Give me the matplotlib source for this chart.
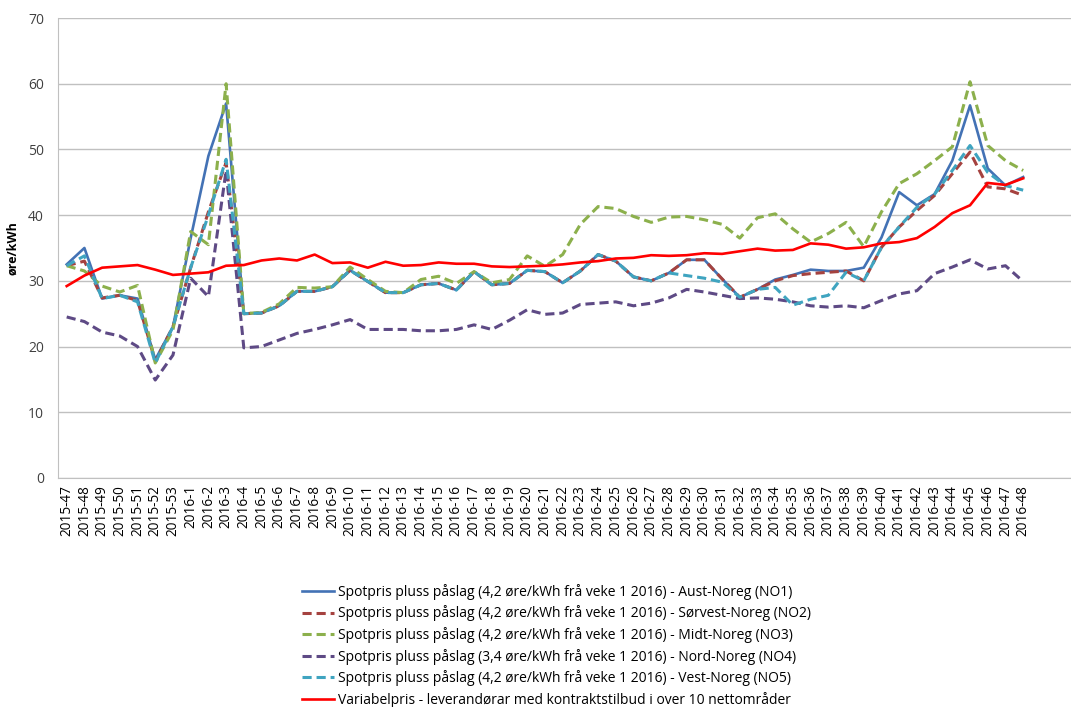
import matplotlib.pyplot as plt

plt.rcParams['font.family'] = ['Open Sans', 'DejaVu Sans']

# Weeks on the category axis
weeks = [f'2015-{w}' for w in range(47, 54)] + [f'2016-{w}' for w in range(1, 49)]

# Weekly prices, øre/kWh
no1 = [32.5, 35.0, 27.3, 27.8, 27.3, 18.0, 23.0, 36.5, 49.0, 57.0,
       25.0, 25.1, 26.2, 28.4, 28.4, 29.1, 31.6, 29.9, 28.2, 28.2,
       29.4, 29.6, 28.6, 31.4, 29.4, 29.6, 31.6, 31.4, 29.7, 31.5,
       34.0, 33.0, 30.6, 30.0, 31.2, 33.2, 33.2, 30.3, 27.5, 28.7,
       30.2, 30.9, 31.7, 31.5, 31.5, 32.0, 36.6, 43.5, 41.5, 43.2,
       48.3, 56.7, 47.1, 44.5, 45.8]
no2 = [32.3, 33.0, 27.4, 27.8, 27.0, 17.8, 23.0, 32.0, 40.5, 48.0,
       25.0, 25.1, 26.2, 28.4, 28.4, 29.1, 31.6, 29.9, 28.2, 28.2,
       29.4, 29.6, 28.6, 31.4, 29.4, 29.6, 31.6, 31.4, 29.7, 31.5,
       34.0, 33.0, 30.6, 30.0, 31.2, 33.2, 33.2, 30.3, 27.5, 28.7,
       30.0, 30.8, 31.1, 31.3, 31.5, 30.0, 35.1, 38.2, 40.7, 43.0,
       46.3, 49.6, 44.3, 44.0, 43.0]
no3 = [32.3, 31.5, 29.2, 28.3, 29.3, 17.5, 22.5, 37.5, 35.5, 60.0,
       25.0, 25.2, 26.5, 29.0, 28.9, 29.1, 32.1, 30.2, 28.4, 28.2,
       30.2, 30.7, 29.6, 31.4, 29.7, 30.2, 33.8, 32.2, 34.0, 38.6,
       41.3, 41.0, 39.8, 38.9, 39.7, 39.8, 39.3, 38.6, 36.5, 39.6,
       40.2, 37.9, 35.9, 37.2, 38.9, 35.2, 40.5, 44.8, 46.3, 48.3,
       50.4, 60.3, 50.6, 48.3, 46.8]
no4 = [24.5, 23.8, 22.2, 21.6, 20.0, 14.9, 18.7, 30.4, 27.6, 46.8,
       19.8, 20.0, 21.0, 22.0, 22.6, 23.3, 24.1, 22.6, 22.6, 22.6,
       22.4, 22.4, 22.6, 23.3, 22.6, 24.0, 25.6, 24.9, 25.1, 26.4,
       26.6, 26.8, 26.2, 26.6, 27.4, 28.7, 28.3, 27.8, 27.3, 27.4,
       27.2, 26.8, 26.2, 26.0, 26.2, 25.9, 27.0, 28.0, 28.5, 31.1,
       32.1, 33.2, 31.8, 32.3, 29.9]
no5 = [32.3, 33.8, 27.3, 27.8, 26.8, 17.5, 23.0, 32.0, 40.0, 48.5,
       25.0, 25.1, 26.2, 28.4, 28.4, 29.1, 31.6, 29.9, 28.2, 28.2,
       29.4, 29.6, 28.6, 31.4, 29.4, 29.6, 31.6, 31.4, 29.7, 31.5,
       34.0, 33.0, 30.6, 30.0, 31.2, 30.8, 30.4, 29.8, 27.5, 28.7,
       29.0, 26.3, 27.2, 27.8, 31.3, 30.0, 35.1, 38.2, 41.2, 43.2,
       46.8, 50.6, 46.5, 44.5, 43.8]
variabel = [29.2, 30.8, 32.0, 32.2, 32.4, 31.7, 30.9, 31.1, 31.3, 32.3,
            32.4, 33.1, 33.4, 33.1, 34.0, 32.7, 32.8, 32.0, 32.9, 32.3,
            32.4, 32.8, 32.6, 32.6, 32.2, 32.1, 32.2, 32.3, 32.5, 32.8,
            33.0, 33.4, 33.5, 33.9, 33.8, 33.9, 34.2, 34.1, 34.5, 34.9,
            34.6, 34.7, 35.7, 35.5, 34.9, 35.1, 35.7, 35.9, 36.5, 38.2,
            40.3, 41.5, 44.9, 44.6, 45.6]

labels = [
    'Spotpris pluss påslag (4,2 øre/kWh frå veke 1 2016) - Aust-Noreg (NO1)',
    'Spotpris pluss påslag (4,2 øre/kWh frå veke 1 2016) - Sørvest-Noreg (NO2)',
    'Spotpris pluss påslag (4,2 øre/kWh frå veke 1 2016) - Midt-Noreg (NO3)',
    'Spotpris pluss påslag (3,4 øre/kWh frå veke 1 2016) - Nord-Noreg (NO4)',
    'Spotpris pluss påslag (4,2 øre/kWh frå veke 1 2016) - Vest-Noreg (NO5)',
    'Variabelpris - leverandørar med kontraktstilbud i over 10 nettområder',
]

fig = plt.figure(figsize=(10.71, 7.07), dpi=100)
ax = fig.add_axes([0.054, 0.324, 0.946, 0.6505])

x = list(range(len(weeks)))
dash = (0, (3, 1.6))
ax.plot(x, no1, color='#4372B5', lw=1.9, label=labels[0])
ax.plot(x, no2, color='#A5423F', lw=2.2, linestyle=dash, label=labels[1])
ax.plot(x, no3, color='#8CB04C', lw=2.2, linestyle=dash, label=labels[2])
ax.plot(x, no4, color='#5E4A85', lw=2.2, linestyle=dash, label=labels[3])
ax.plot(x, no5, color='#3FA4C0', lw=2.2, linestyle=dash, label=labels[4])
ax.plot(x, variabel, color='#FF0000', lw=1.9, label=labels[5])

ax.set_xlim(-0.5, 56.7)
ax.set_ylim(0, 70)
ax.set_yticks(range(0, 71, 10))
ax.set_xticks(x)
ax.set_xticklabels(weeks, rotation=90, fontsize=9.8)
ax.tick_params(axis='y', labelsize=10, length=0, pad=10, labelcolor='#404040')
ax.tick_params(axis='x', length=0, pad=5)
ax.grid(axis='y', color='#C0C0C0', lw=1)
ax.set_axisbelow(True)
for side in ['top', 'right']:
    ax.spines[side].set_visible(False)
for side in ['left', 'bottom']:
    ax.spines[side].set_color('#C0C0C0')
ax.set_ylabel('øre/kWh', fontsize=9, fontweight='bold', labelpad=6)

fig.legend(loc='upper left', bbox_to_anchor=(0.2755, 0.184), frameon=False,
           fontsize=10, labelspacing=0.4, handlelength=2.3, handletextpad=0.3,
           borderpad=0)

fig.savefig('out.png', dpi=100)
